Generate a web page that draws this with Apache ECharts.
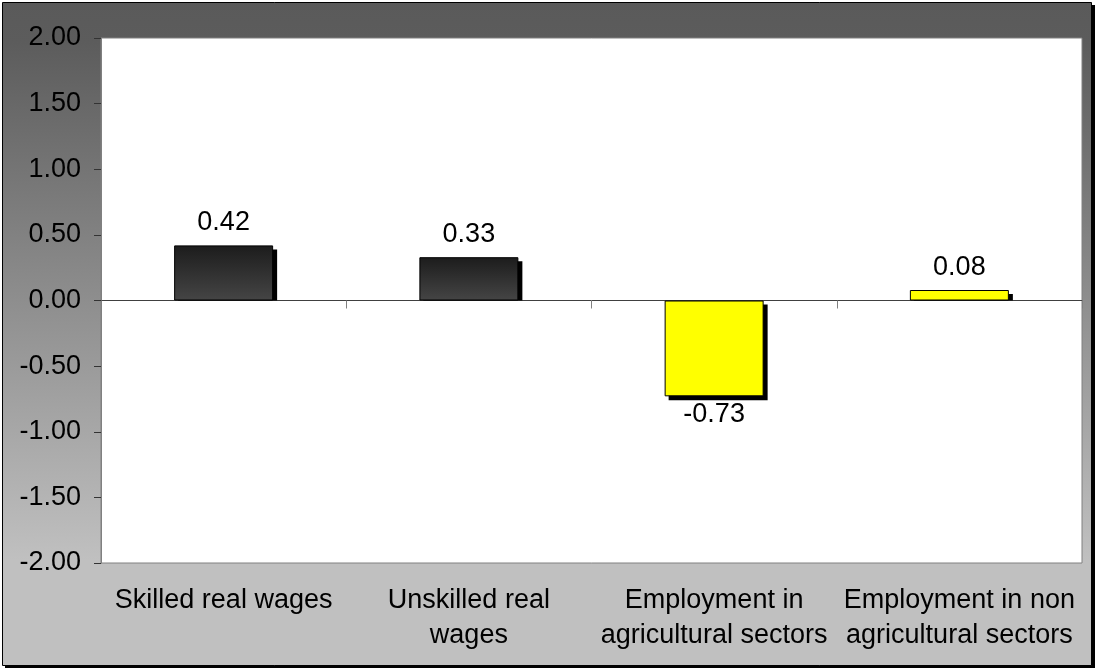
<!DOCTYPE html>
<html>
<head>
<meta charset="utf-8">
<script src="https://cdn.jsdelivr.net/npm/echarts@6/dist/echarts.min.js"></script>
<style>
html,body{margin:0;padding:0;background:#fff;}
#chart{width:1096px;height:672px;}
</style>
</head>
<body>
<div id="chart"></div>
<script>
const categories = ['Skilled real wages', 'Unskilled real\nwages', 'Employment in\nagricultural sectors', 'Employment in non\nagricultural sectors'];
const values = [0.42, 0.33, -0.73, 0.08];
const barKinds = ['dark', 'dark', 'yellow', 'yellow'];
const yTicks = { min: -2, max: 2, interval: 0.5 };

const FONT = 'Liberation Sans, Arial, sans-serif';
const FS = 27;
const BAR_W = 99;
const darkFill = {
  type: 'linear', x: 0, y: 0, x2: 0, y2: 1,
  colorStops: [{ offset: 0, color: '#1c1c1c' }, { offset: 1, color: '#454545' }]
};
const seriesData = values.map((v, i) => ({
  value: v,
  itemStyle: { color: barKinds[i] === 'dark' ? darkFill : '#ffff00' },
  label: { position: v < 0 ? 'bottom' : 'top', distance: v < 0 ? 5 : 9 }
}));

const chart = echarts.init(document.getElementById('chart'), null, { renderer: 'canvas' });
chart.setOption({
  backgroundColor: '#ffffff',
  animation: false,
  graphic: {
    elements: [
      { type: 'rect', z: -20, silent: true, shape: { x: 5, y: 5, width: 1090, height: 663 }, style: { fill: '#000' } },
      { type: 'rect', z: -19, silent: true, shape: { x: 2.5, y: 2.5, width: 1089, height: 663 },
        style: {
          fill: { type: 'linear', x: 0, y: 0, x2: 0, y2: 1,
            colorStops: [{ offset: 0, color: '#5a5a5a' }, { offset: 0.06, color: '#5c5c5c' }, { offset: 0.84, color: '#c0c0c0' }, { offset: 1, color: '#c0c0c0' }] },
          stroke: '#000', lineWidth: 1
        } }
    ]
  },
  grid: {
    left: 101, right: 14, top: 38, bottom: 109,
    show: true, backgroundColor: '#ffffff', borderColor: '#808080', borderWidth: 1,
    containLabel: false
  },
  xAxis: [
    {
      type: 'category', data: categories, position: 'bottom',
      axisLine: { show: false, onZero: false },
      axisTick: { show: false },
      axisLabel: { color: '#000', fontFamily: FONT, fontSize: FS, lineHeight: 35, margin: 20, interval: 0 },
      splitLine: { show: false }
    },
    {
      type: 'category', data: categories, position: 'bottom',
      axisLine: { show: true, onZero: true, lineStyle: { color: '#404040', width: 1 } },
      axisTick: { show: true, length: 8, lineStyle: { color: '#808080' } },
      axisLabel: { show: false },
      splitLine: { show: false }
    }
  ],
  yAxis: {
    type: 'value', min: yTicks.min, max: yTicks.max, interval: yTicks.interval,
    axisLine: { show: true, lineStyle: { color: '#808080' } },
    axisTick: { show: true, length: 7, lineStyle: { color: '#333' } },
    axisLabel: { color: '#000', fontFamily: FONT, fontSize: FS, margin: 20, formatter: v => v.toFixed(2) },
    splitLine: { show: false }
  },
  series: [
    {
      type: 'custom', xAxisIndex: 0, z: 1, silent: true,
      data: values.map((v, i) => [i, v]),
      renderItem: function (params, api) {
        const c = api.coord([api.value(0), api.value(1)]);
        const z0 = api.coord([api.value(0), 0]);
        const left = c[0] - BAR_W / 2 + 4;
        let top, bottom;
        if (api.value(1) >= 0) { top = c[1] + 4; bottom = z0[1]; }
        else { top = z0[1] + 4; bottom = c[1] + 4; }
        return { type: 'rect', shape: { x: left, y: top, width: BAR_W, height: Math.max(0, bottom - top) }, style: { fill: '#000' } };
      }
    },
    {
      type: 'bar', xAxisIndex: 0, z: 2, data: seriesData, barWidth: BAR_W,
      itemStyle: { borderColor: '#000', borderWidth: 1 },
      label: { show: true, color: '#000', fontFamily: FONT, fontSize: FS, formatter: p => p.value.toFixed(2) }
    }
  ]
});
</script>
</body>
</html>
